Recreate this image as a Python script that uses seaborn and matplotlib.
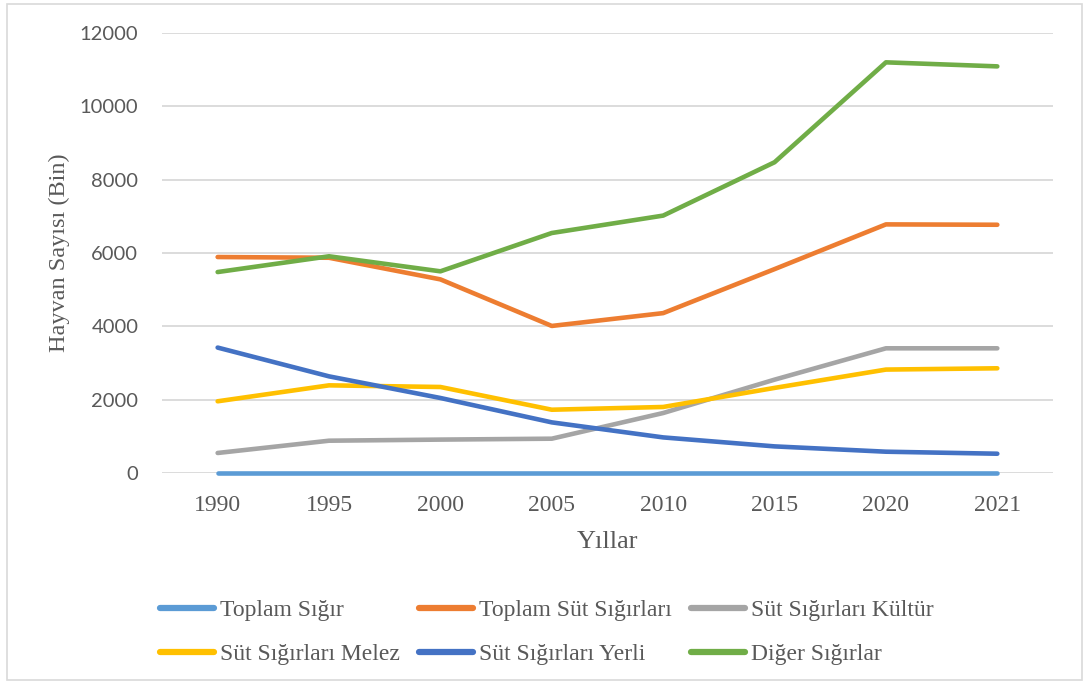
import matplotlib
matplotlib.use("Agg")
import matplotlib.pyplot as plt
import matplotlib.patches as patches
import pandas as pd
import seaborn as sns

# veriler (bin baş)
years = ["1990", "1995", "2000", "2005", "2010", "2015", "2020", "2021"]
toplam_sigir = [0, 0, 0, 0, 0, 0, 0, 0]
toplam_sut = [5890, 5870, 5280, 4010, 4360, 5560, 6780, 6770]
kultur = [545, 880, 910, 935, 1635, 2545, 3400, 3400]
melez = [1955, 2390, 2345, 1725, 1800, 2320, 2820, 2855]
yerli = [3420, 2635, 2045, 1380, 970, 725, 580, 525]
diger = [5480, 5910, 5500, 6545, 7020, 8475, 11200, 11090]

series_names = ["Toplam Sığır", "Toplam Süt Sığırları", "Süt Sığırları Kültür",
                "Süt Sığırları Melez", "Süt Sığırları Yerli", "Diğer Sığırlar"]
series_values = [toplam_sigir, toplam_sut, kultur, melez, yerli, diger]
colors = ["#5B9BD5", "#ED7D31", "#A5A5A5", "#FFC000", "#4472C4", "#70AD47"]

rows = []
for name, vals in zip(series_names, series_values):
    for i, v in enumerate(vals):
        rows.append({"pos": i, "deger": v, "seri": name})
df = pd.DataFrame(rows)

sns.set_style("white")
plt.rcParams["font.family"] = ["Liberation Serif", "DejaVu Serif"]

fig = plt.figure(figsize=(10.84, 6.82), dpi=100)
ax = fig.add_axes([0.1494, 0.3065, 0.8220, 0.6451])

sns.lineplot(data=df, x="pos", y="deger", hue="seri", hue_order=series_names,
             palette=dict(zip(series_names, colors)), linewidth=3.3, sort=False,
             ax=ax, legend=False, solid_capstyle="round", solid_joinstyle="round",
             zorder=3)
for ln in ax.lines:
    ln.set_clip_on(False)

ax.set_xlim(-0.5, len(years) - 0.5)
ax.set_ylim(0, 12000)
ax.set_xticks(range(len(years)))
ax.set_xticklabels(years, fontsize=17, color="#595959")
ax.set_yticks(range(0, 12001, 2000))
ax.set_yticklabels([str(v) for v in range(0, 12001, 2000)],
                   fontsize=14.5, color="#595959", family="Lato")
ax.tick_params(axis="both", length=0)
ax.tick_params(axis="y", pad=17)
ax.tick_params(axis="x", pad=16)
ax.grid(axis="y", color="#D9D9D9", linewidth=1.3, zorder=0)
ax.grid(axis="x", visible=False)
for s in ax.spines.values():
    s.set_visible(False)

ax.set_xlabel("Yıllar", fontsize=19, color="#595959", labelpad=11)
ax.set_ylabel("Hayvan Sayısı (Bin)", fontsize=17.5, color="#595959", labelpad=7)

# satır satır sıralama için sütun düzenine göre yeniden diz
order = [0, 3, 1, 4, 2, 5]
handles = [plt.Line2D([], [], color=colors[i], linewidth=4.5, solid_capstyle="round")
           for i in order]
labels = [series_names[i] for i in order]
fig.legend(handles, labels, loc="upper left", bbox_to_anchor=(0.1475, 0.121),
           ncol=3, frameon=False, fontsize=17, handlelength=2.3, handletextpad=0.25,
           columnspacing=0.8, labelspacing=0.95, labelcolor="#595959",
           borderaxespad=0, borderpad=0)

fig.patches.append(patches.Rectangle((0.006, 0.003), 0.992, 0.991,
                                     transform=fig.transFigure, fill=False,
                                     edgecolor="#D9D9D9", linewidth=1.2))

fig.savefig("out.png", dpi=100)
